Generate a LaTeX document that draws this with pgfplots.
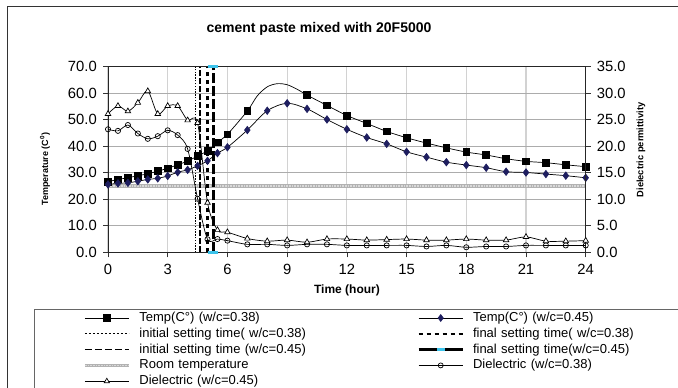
\documentclass[border=0pt]{standalone}
\usepackage{pgfplots}
\pgfplotsset{compat=1.18}
\usepackage{pgfplotstable}
\usepackage{fontspec}
\setmainfont{Liberation Sans}
\definecolor{navy}{RGB}{30,30,95}
\definecolor{lcyan}{RGB}{60,195,235}

\pgfplotstableread{
x y
0 26.6
0.5 27.5
1 28.1
1.5 28.9
2 29.6
2.5 30.6
3 31.7
3.5 33.0
4 34.4
4.5 36.3
5 38.3
5.5 41.5
6 44.5
7 53.3
7.5 59.0
8 62.4
8.5 63.6
9 63.2
9.5 61.5
10 59.3
11 55.4
12 51.6
13 48.6
14 45.6
15 43.2
16 41.2
17 39.4
18 37.8
19 36.7
20 35.3
21 34.3
22 33.8
23 33.0
24 32.3
}\tempA

\pgfplotstableread{
x y
0 25.6
0.5 26.0
1 26.2
1.5 26.8
2 27.5
2.5 27.9
3 28.8
3.5 30.2
4 31.1
4.5 32.6
5 34.5
5.5 37.4
6 39.6
7 46.1
8 53.4
9 56.2
10 54.1
11 50.1
12 46.4
13 43.3
14 40.9
15 37.9
16 35.9
17 34.0
18 32.9
19 31.9
20 30.4
21 30.1
22 29.5
23 28.9
24 28.1
}\tempB

\pgfplotstableread{
x y
0 23.2
0.5 22.9
1 24.0
1.5 22.4
2 21.4
2.5 21.9
3 23.0
3.5 22.1
4 19.5
4.5 10.1
5 2.45
5.5 2.5
6 2.2
7 1.5
8 1.5
9 1.3
10 1.5
11 1.5
12 1.3
13 1.3
14 1.3
15 1.3
16 1.1
17 1.3
18 0.95
19 1.1
20 1.1
21 1.3
22 1.3
23 1.3
24 1.3
}\dielA

\pgfplotstableread{
x y
0 26.1
0.5 27.6
1 26.6
1.5 28.2
2 30.4
2.5 26.1
3 27.6
3.5 27.6
4 24.9
4.5 24.4
5 9.35
5.5 4.2
6 3.8
7 2.6
8 2.1
9 2.3
10 1.9
11 2.5
12 2.5
13 2.3
14 2.4
15 2.5
16 2.3
17 2.3
18 2.5
19 2.3
20 2.3
21 2.9
22 2.1
23 2.1
24 2.2
}\dielB

\begin{document}
\begin{tikzpicture}[x=1bp,y=1bp]
\useasboundingbox (0,0) rectangle (678,387);
\draw[black!80, line width=1bp] (7,-20) -- (7,380) -- (700,380);
\draw[black!60, line width=0.8bp] (34,-20) -- (34,78) -- (700,78);

\pgfplotsset{
  every axis/.append style={
    scale only axis, width=477.7bp, height=185.6bp,
    at={(108bp,134.7bp)}, anchor=south west,
    xmin=0, xmax=24,
    tick align=outside, major tick length=5bp,
    tick style={black!80, line width=0.6bp},
    axis line style={black!85, line width=0.8bp},
    tick label style={font=\fontsize{14.8bp}{17bp}\selectfont, /pgf/number format/assume math mode=true},
  },
  legend image code/.code={\draw[mark repeat=2,mark phase=2,#1] plot coordinates {(0bp,0bp) (22bp,0bp) (44bp,0bp)};},
}

\begin{axis}[
  ymin=0, ymax=70,
  xtick={0,3,...,24}, ytick={0,10,...,70},
  xtick pos=bottom, ytick pos=left,
  yticklabel style={/pgf/number format/.cd, fixed, fixed zerofill, precision=1, /tikz/.cd, anchor=east, inner sep=0pt, xshift=-6bp},
  xticklabel style={anchor=north, inner sep=0pt, yshift=-7bp},
  xmajorgrids, ymajorgrids,
  x grid style={gray!35, line width=1.2bp},
  y grid style={gray!65, line width=0.6bp},
  legend columns=2,
  legend cell align=left,
  legend style={at={(-0.0523,-0.318)}, anchor=north west, draw=none, fill=none, inner sep=0pt,
    row sep=2.8bp, column sep=9bp,
    font=\fontsize{13bp}{15bp}\selectfont,
    nodes={inner sep=0pt, text height=10bp, text depth=3bp, text width=269bp, align=left}},
]
% room temperature
\addplot[forget plot, gray!60, line width=3.2bp, postaction={draw, white!70!gray, line width=1.4bp, dash pattern=on 0.8bp off 0.8bp}] coordinates {(0,25) (24,25)};
% setting times
\addplot[forget plot, black, line width=1.4bp, dash pattern=on 1.4bp off 1.4bp] coordinates {(4.4,0) (4.4,70)};
\addplot[forget plot, black, line width=1.5bp, dash pattern=on 6bp off 2bp] coordinates {(4.62,0) (4.62,70)};
\addplot[forget plot, black, line width=2.6bp, dash pattern=on 4bp off 4bp] coordinates {(5.0,0) (5.0,70)};
\addplot[forget plot, black, line width=2.8bp, dash pattern=on 10bp off 3bp, mark=-, mark size=5bp, mark options={lcyan, solid, line width=2.5bp}] coordinates {(5.3,0) (5.3,70)};
% temperatures
\addplot[forget plot, black, line width=0.7bp, smooth, mark=square*, mark size=3.4bp, mark options={fill=black, solid},
  mark indices={1,2,3,4,5,6,7,8,9,10,11,12,13,14,20,21,22,23,24,25,26,27,28,29,30,31,32,33,34}] table {\tempA};
\addplot[forget plot, black, line width=0.7bp, smooth, mark=diamond*, mark size=3.7bp, mark options={fill=navy, draw=navy, solid}] table {\tempB};

\addlegendimage{black, line width=0.7bp, mark=square*, mark size=3.2bp, mark options={fill=black, solid}}
\addlegendentry{Temp(C°) (w/c=0.38)}
\addlegendimage{black, line width=0.7bp, mark=diamond*, mark size=3.4bp, mark options={fill=navy, draw=navy, solid}}
\addlegendentry{Temp(C°) (w/c=0.45)}
\addlegendimage{black, line width=0.8bp, dash pattern=on 2bp off 2bp}
\addlegendentry{initial setting time( w/c=0.38)}
\addlegendimage{black, line width=2.4bp, dash pattern=on 4bp off 4bp}
\addlegendentry{final setting time( w/c=0.38)}
\addlegendimage{black, line width=0.9bp, dash pattern=on 7bp off 3bp}
\addlegendentry{initial setting time (w/c=0.45)}
\addlegendimage{black, line width=2.6bp, mark=-, mark size=4bp, mark options={lcyan, solid, line width=2.6bp}}
\addlegendentry{final setting time(w/c=0.45)}
\addlegendimage{gray!60, line width=3.2bp, postaction={draw, white!70!gray, line width=1.4bp, dash pattern=on 0.8bp off 0.8bp}}
\addlegendentry{Room temperature}
\addlegendimage{black, line width=0.7bp, mark=o, mark size=2.5bp, mark options={fill=gray!35, solid}}
\addlegendentry{Dielectric (w/c=0.38)}
\addlegendimage{black, line width=0.7bp, mark=triangle*, mark size=3bp, mark options={fill=white, draw=black, solid}}
\addlegendentry{Dielectric (w/c=0.45)}
\end{axis}

\begin{axis}[
  ymin=0, ymax=35,
  axis x line=none, axis y line*=right,
  ytick={0,5,...,35},
  yticklabel style={/pgf/number format/.cd, fixed, fixed zerofill, precision=1, /tikz/.cd, anchor=west, inner sep=0pt, xshift=6bp},
]
\addplot[black, line width=0.7bp, smooth, mark=o, mark size=2.6bp, mark options={fill=gray!35, solid}] table {\dielA};
\addplot[black, line width=0.7bp, smooth, mark=triangle*, mark size=3.2bp, mark options={fill=white, draw=black, solid}] table {\dielB};
\end{axis}

\node[font=\fontsize{14bp}{16bp}\selectfont\bfseries] at (319,358) {cement paste mixed with 20F5000};
\node[font=\fontsize{12bp}{14bp}\selectfont\bfseries] at (347,97) {Time (hour)};
\node[font=\fontsize{9bp}{11bp}\selectfont\bfseries, rotate=90] at (45,218) {Temperature (C$^{\mathbf{0}}$)};
\node[font=\fontsize{9.3bp}{11bp}\selectfont\bfseries, rotate=90] at (641,237) {Dielectric permittivity};
\end{tikzpicture}
\end{document}
